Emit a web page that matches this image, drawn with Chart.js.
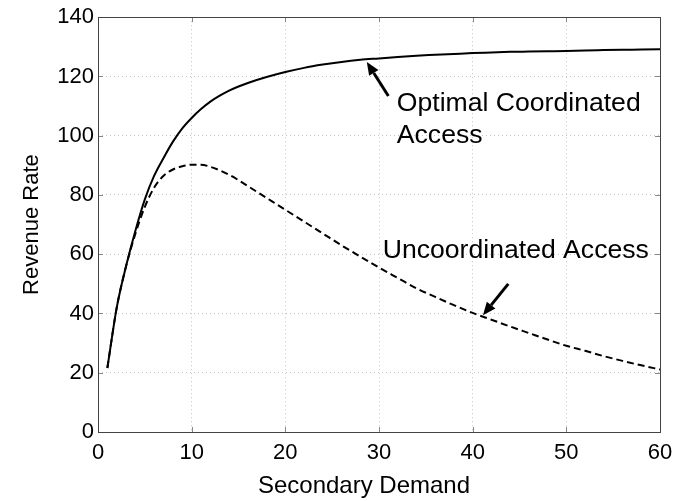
<!DOCTYPE html>
<html>
<head>
<meta charset="utf-8">
<script src="https://cdn.jsdelivr.net/npm/chart.js@4.4.1/dist/chart.umd.min.js"></script>
<style>
    body { margin: 0; background: #fff; }
    #wrap { width: 695px; height: 501px; position: relative; }
</style>
</head>
<body>
<div id="wrap"><canvas id="revenueChart"></canvas></div>
<script>
const secondaryDemand = [1, 2, 3, 4, 5, 6, 7, 8, 9, 10, 11, 12, 13, 14, 15, 16, 18, 20, 22, 24, 26, 28, 30, 32, 34, 36, 38, 40, 42, 44, 46, 48, 50, 52, 54, 56, 58, 60];
const optimalRevenue = [21.6, 42, 56, 68, 78.5, 86.5, 92.5, 98, 102.5, 106, 109, 111.5, 113.5, 115.2, 116.6, 117.8, 119.8, 121.5, 122.9, 124, 124.9, 125.6, 126.1, 126.6, 127, 127.3, 127.6, 127.9, 128.1, 128.3, 128.4, 128.5, 128.6, 128.8, 128.9, 129, 129.1, 129.2];
const uncoordRevenue = [21.6, 42, 56, 67, 76, 82.5, 86.5, 88.6, 89.7, 90.2, 90.2, 89.5, 88.3, 86.8, 85, 83, 79, 75, 71, 67, 63, 59.2, 55.5, 52, 48.5, 45.6, 42.8, 40.2, 37.9, 35.6, 33.4, 31.2, 29.1, 27.4, 25.6, 24, 22.5, 21.1];
const xTicks = [0, 10, 20, 30, 40, 50, 60];
const yTicks = [0, 20, 40, 60, 80, 100, 120, 140];
const xTitle = 'Secondary Demand';
const yTitle = 'Revenue Rate';

// annotation anchors in data units
const notes = [
    { lines: ['Optimal Coordinated', 'Access'], x: 31.9, y: 108.2, tail: [31.0, 113.4], tip: [28.7, 124.9] },
    { lines: ['Uncoordinated Access'], x: 30.4, y: 58.8, tail: [43.8, 50.0], tip: [41.1, 39.4] }
];

const FONT = '"Liberation Sans", Arial, sans-serif';
const toPoints = (ys) => secondaryDemand.map((x, i) => ({ x: x, y: ys[i] }));

const boxPlugin = {
    id: 'boxPlugin',
    afterDraw(chart) {
        const { ctx, chartArea: a, scales } = chart;
        const sx = scales.x, sy = scales.y;
        ctx.save();
        // inner tick marks, matlab style
        ctx.strokeStyle = '#888';
        ctx.lineWidth = 1;
        ctx.beginPath();
        xTicks.slice(1, -1).forEach(v => {
            const px = Math.round(sx.getPixelForValue(v)) + 0.5;
            ctx.moveTo(px, a.bottom); ctx.lineTo(px, a.bottom - 5);
            ctx.moveTo(px, a.top); ctx.lineTo(px, a.top + 5);
        });
        yTicks.slice(1, -1).forEach(v => {
            const py = Math.round(sy.getPixelForValue(v)) + 0.5;
            ctx.moveTo(a.left, py); ctx.lineTo(a.left + 5, py);
            ctx.moveTo(a.right, py); ctx.lineTo(a.right - 5, py);
        });
        ctx.stroke();
        ctx.strokeStyle = '#444';
        ctx.strokeRect(Math.round(a.left) + 0.5, Math.round(a.top) + 0.5, Math.round(a.right - a.left), Math.round(a.bottom - a.top));

        // axis titles
        ctx.fillStyle = '#000';
        ctx.textAlign = 'center';
        ctx.textBaseline = 'alphabetic';
        ctx.font = '24px ' + FONT;
        ctx.fillText(xTitle, 364, 493);
        ctx.save();
        ctx.translate(38, (a.top + a.bottom) / 2);
        ctx.rotate(-Math.PI / 2);
        ctx.font = '22px ' + FONT;
        ctx.fillText(yTitle, 0, 0);
        ctx.restore();

        // text + arrows
        ctx.strokeStyle = '#000';
        ctx.font = '26.6px ' + FONT;
        ctx.textAlign = 'left';
        notes.forEach(n => {
            const tx = sx.getPixelForValue(n.x), ty = sy.getPixelForValue(n.y);
            n.lines.forEach((t, i) => ctx.fillText(t, tx, ty + i * 32));
            const x0 = sx.getPixelForValue(n.tail[0]), y0 = sy.getPixelForValue(n.tail[1]);
            const x1 = sx.getPixelForValue(n.tip[0]), y1 = sy.getPixelForValue(n.tip[1]);
            const ang = Math.atan2(y1 - y0, x1 - x0);
            const headLen = 13, headW = 5.5;
            const bx = x1 - headLen * Math.cos(ang), by = y1 - headLen * Math.sin(ang);
            ctx.lineWidth = 3;
            ctx.beginPath();
            ctx.moveTo(x0, y0); ctx.lineTo(bx, by);
            ctx.stroke();
            ctx.beginPath();
            ctx.moveTo(x1, y1);
            ctx.lineTo(bx + headW * Math.sin(ang), by - headW * Math.cos(ang));
            ctx.lineTo(bx - headW * Math.sin(ang), by + headW * Math.cos(ang));
            ctx.closePath();
            ctx.fill();
        });
        ctx.restore();
    }
};

(()=>{
    const ctx = document.querySelector('#revenueChart');
    new Chart(ctx, {
        type: 'line',
        data: {
            datasets: [
                {
                    label: 'Optimal Coordinated Access',
                    data: toPoints(optimalRevenue),
                    borderColor: '#000',
                    borderWidth: 2,
                    pointRadius: 0,
                    cubicInterpolationMode: 'monotone',
                    fill: false
                },
                {
                    label: 'Uncoordinated Access',
                    data: toPoints(uncoordRevenue),
                    borderColor: '#000',
                    borderWidth: 2,
                    borderDash: [7, 4],
                    pointRadius: 0,
                    cubicInterpolationMode: 'monotone',
                    fill: false
                }
            ]
        },
        options: {
            responsive: true,
            maintainAspectRatio: false,
            animation: false,
            layout: { padding: { top: 13, right: 35, left: 0, bottom: 0 } },
            plugins: {
                legend: { display: false },
                tooltip: { enabled: false }
            },
            scales: {
                x: {
                    type: 'linear',
                    min: 0,
                    max: 60,
                    afterFit: (scale) => { scale.height = 69; },
                    afterBuildTicks: (scale) => { scale.ticks = xTicks.map(v => ({ value: v })); },
                    grid: { color: '#c4c4c4', drawTicks: false },
                    border: { display: false, dash: [1, 3] },
                    ticks: {
                        color: '#000',
                        padding: 8,
                        maxRotation: 0,
                        font: { family: FONT, size: 22 }
                    }
                },
                y: {
                    min: 0,
                    max: 140,
                    afterFit: (scale) => { scale.width = 98; },
                    afterBuildTicks: (scale) => { scale.ticks = yTicks.map(v => ({ value: v })); },
                    grid: { color: '#c4c4c4', drawTicks: false },
                    border: { display: false, dash: [1, 3] },
                    ticks: {
                        color: '#000',
                        padding: 4,
                        font: { family: FONT, size: 22 }
                    }
                }
            }
        },
        plugins: [boxPlugin]
    });
})();
</script>
</body>
</html>
